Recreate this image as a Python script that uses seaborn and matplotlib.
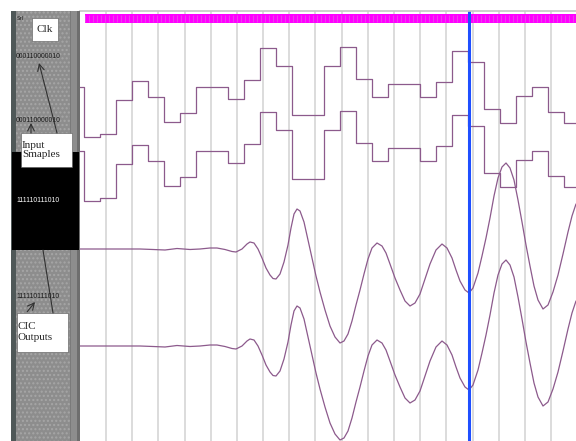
import numpy as np
import pandas as pd
import matplotlib.pyplot as plt
import matplotlib.patches as mpatches
import seaborn as sns

sns.set_theme(style="white")
plt.rcParams["font.family"] = ["Liberation Serif", "DejaVu Serif"]

# input samples (display units, upward from row baseline), one per clock-enable period of 16 ns
input_values = [50, 0, 3, 37, 56, 40, 15, 24, 50, 50, 38, 57, 89, 71, 22, 22, 71,
                90, 58, 40, 53, 53, 40, 55, 86, 75, 28, 14, 41, 50, 25, 14]
input_start = -16
sample_period = 16

# CIC output (time in ns, amplitude in display units)
cic_time = [-4, 16, 36, 56, 69, 81, 93, 106, 116, 126, 133, 141, 148, 152, 158, 163,
            166, 170, 174, 178, 182, 186, 189, 192, 196, 200, 204, 207, 210, 213, 216,
            220, 224, 228, 232, 236, 241, 246, 251, 256, 260, 264, 268, 272, 276, 280,
            284, 288, 293, 298, 302, 306, 311, 316, 321, 326, 331, 336, 341, 346, 352,
            358, 363, 368, 372, 376, 381, 385, 389, 394, 398, 402, 406, 410, 414, 418,
            422, 426, 430, 434, 438, 442, 446, 450, 454, 459, 464, 469, 474, 479, 484,
            488, 492]
cic_value = [0, 0, 0, 0, -0.5, -1, 0.5, -0.5, 0, 1, 1, -0.5, -2.5, -3, 0, 5,
             7, 6, 0, -9, -19, -26, -29.5, -30, -25, -13, 4, 21, 35, 40, 38,
             27, 9, -9, -27, -43, -61, -77, -88, -94, -92, -85, -72, -56, -41, -25,
             -10, 1, 6, 3, -4, -15, -29, -41, -52, -57, -54, -45, -30, -15, -1,
             5, 1, -9, -21, -32, -41, -44, -39, -24, -7, 11, 31, 53, 71, 82,
             86, 81, 69, 49, 27, 4, -17, -37, -51, -60, -56, -43, -26, -5, 17,
             33, 45]

in_labels = ["000110000010", "000110000010"]
out_labels = ["111110111010", "111110111010"]
cursor_time = 385
t_min, t_max = -4, 492

inputs = pd.DataFrame({"t": input_start + sample_period * np.arange(len(input_values)),
                       "v": input_values})
inputs = pd.concat([inputs, pd.DataFrame({"t": [t_max + 8], "v": [input_values[-1]]})])
cic = pd.DataFrame({"t": cic_time, "v": cic_value})

wave = "#8c5a8c"
fig = plt.figure(figsize=(5.76, 4.41), dpi=100)

# waveform area
ax = fig.add_axes([80 / 576, 0, 496 / 576, 430 / 441])
ax.set_xlim(t_min, t_max)
ax.set_ylim(441, 11)
ax.set_xticks(22 + 26.18 * np.arange(18))
ax.tick_params(length=0, labelbottom=False, labelleft=False)
ax.grid(axis="x", color="#d6d6d6", lw=1.2)
for s in ["left", "right", "bottom"]:
    ax.spines[s].set_visible(False)
ax.spines["top"].set_color("#c8c8c8")

for base in [137, 201.5]:
    sns.lineplot(x=inputs["t"], y=base - inputs["v"], ax=ax, color=wave, lw=0.9,
                 drawstyle="steps-post", estimator=None)
for base in [249, 346]:
    sns.lineplot(x=cic["t"], y=base - cic["v"], ax=ax, color=wave, lw=0.9,
                 estimator=None, sort=False)

# clock
clk = np.arange(1, t_max + 1, 4)
ax.fill_between([1, t_max], 14, 23, color="#ff00ff", lw=0)
ax.vlines(clk, 15, 22, color="#e84ee8", lw=0.6)
ax.axvline(cursor_time, color="#1f4fff", lw=2.2)

# signal name panel
p = fig.add_axes([0, 0, 80 / 576, 1])
p.set_xlim(0, 80)
p.set_ylim(441, 0)
p.axis("off")
p.add_patch(mpatches.Rectangle((11, 11), 69, 430, fc="#8d8d8d", ec="none"))
p.add_patch(mpatches.Rectangle((16, 11), 54, 430, fc="none", ec="#a6a6a6", lw=0, hatch="...."))
p.add_patch(mpatches.Rectangle((11, 11), 5, 430, fc="#4f5858", ec="none"))
p.add_patch(mpatches.Rectangle((70, 11), 1, 430, fc="#7a7a7a", ec="none"))
p.add_patch(mpatches.Rectangle((77, 11), 3, 430, fc="#6e6e6e", ec="none"))
p.add_patch(mpatches.Rectangle((12, 152), 67, 98, fc="black", ec="none"))

p.text(17, 18, "Srl", fontsize=4, color="#222222", family="DejaVu Sans", va="center")
for y, lab in zip([57, 121], in_labels):
    p.text(16, y, lab, fontsize=4.9, color="#1a1a1a", family="Liberation Sans", va="center")
p.text(16, 200, out_labels[0], fontsize=4.9, color="white", family="Liberation Sans", va="center")
p.text(16, 297, out_labels[1], fontsize=4.9, color="#1a1a1a", family="Liberation Sans", va="center")

arrow = dict(arrowstyle="->", color="#303030", lw=0.8, shrinkA=0, shrinkB=0)
p.annotate("", xy=(39, 63), xytext=(57, 133), arrowprops=arrow)
p.annotate("", xy=(31, 123), xytext=(31, 133), arrowprops=arrow)
p.plot([43, 53], [250, 313], color="#303030", lw=0.8)
p.annotate("", xy=(35, 302), xytext=(27, 312), arrowprops=arrow)

p.add_patch(mpatches.Rectangle((32, 18), 26, 23, fc="white", ec="#555555", lw=0.4))
p.text(45, 29.5, "Clk", fontsize=8, ha="center", va="center")
p.add_patch(mpatches.Rectangle((21, 133), 51, 34, fc="white", ec="#555555", lw=0.4))
p.text(22, 150, "Input\nSmaples", fontsize=8, va="center", linespacing=1.1)
p.add_patch(mpatches.Rectangle((17, 313), 51, 39, fc="white", ec="#555555", lw=0.4))
p.text(18, 332, "CIC\nOutputs", fontsize=8, va="center", linespacing=1.2)

fig.savefig("out.png", dpi=100)
